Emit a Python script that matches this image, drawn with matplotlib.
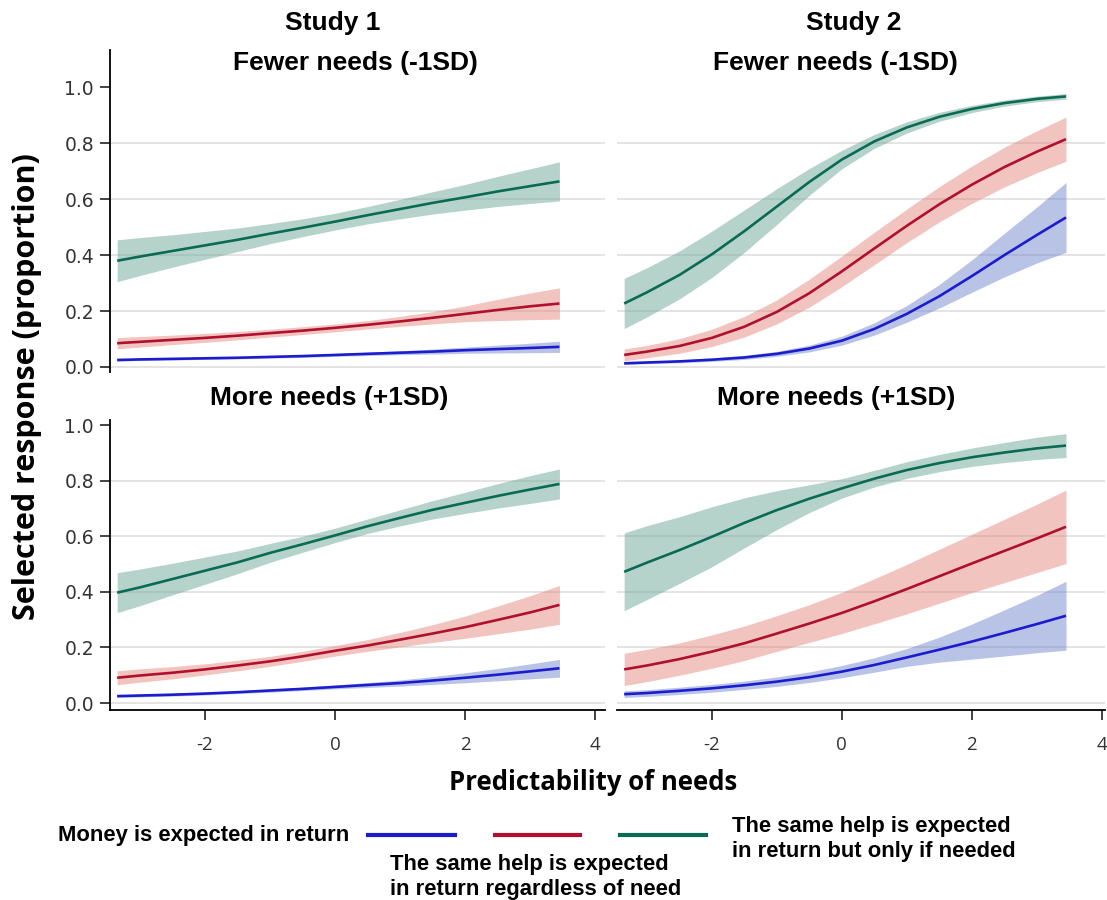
import numpy as np
import matplotlib.pyplot as plt
from matplotlib.lines import Line2D

W, H = 1107, 900

x_pred = [-3.35, -3.0, -2.5, -2.0, -1.5, -1.0, -0.5, 0.0, 0.5, 1.0, 1.5, 2.0, 2.5, 3.0, 3.45]

# Study 1, fewer needs (-1SD)
s1_few_money = [0.025, 0.027, 0.029, 0.031, 0.033, 0.036, 0.039, 0.043, 0.047, 0.051, 0.055, 0.060, 0.064, 0.068, 0.072]
s1_few_money_ci = [0.004, 0.004, 0.004, 0.004, 0.004, 0.004, 0.005, 0.005, 0.006, 0.007, 0.009, 0.011, 0.014, 0.017, 0.020]
s1_few_same = [0.085, 0.090, 0.097, 0.104, 0.112, 0.121, 0.130, 0.140, 0.151, 0.163, 0.176, 0.190, 0.204, 0.217, 0.227]
s1_few_same_ci = [0.020, 0.019, 0.017, 0.016, 0.015, 0.014, 0.014, 0.014, 0.015, 0.018, 0.022, 0.028, 0.038, 0.048, 0.056]
s1_few_ifneeded = [0.380, 0.395, 0.415, 0.435, 0.455, 0.477, 0.498, 0.520, 0.543, 0.565, 0.587, 0.607, 0.628, 0.647, 0.664]
s1_few_ifneeded_ci = [0.075, 0.068, 0.058, 0.050, 0.042, 0.036, 0.032, 0.030, 0.031, 0.035, 0.040, 0.046, 0.054, 0.062, 0.070]

# Study 1, more needs (+1SD)
s1_more_money = [0.025, 0.027, 0.030, 0.034, 0.039, 0.045, 0.051, 0.058, 0.065, 0.072, 0.081, 0.091, 0.102, 0.114, 0.125]
s1_more_money_ci = [0.005, 0.005, 0.005, 0.005, 0.005, 0.006, 0.006, 0.007, 0.009, 0.011, 0.014, 0.018, 0.022, 0.027, 0.032]
s1_more_same = [0.091, 0.099, 0.109, 0.121, 0.135, 0.150, 0.168, 0.188, 0.207, 0.228, 0.250, 0.273, 0.299, 0.326, 0.353]
s1_more_same_ci = [0.025, 0.024, 0.022, 0.020, 0.019, 0.018, 0.018, 0.019, 0.021, 0.026, 0.032, 0.040, 0.050, 0.060, 0.070]
s1_more_ifneeded = [0.397, 0.416, 0.446, 0.476, 0.506, 0.540, 0.571, 0.603, 0.636, 0.666, 0.695, 0.720, 0.745, 0.768, 0.788]
s1_more_ifneeded_ci = [0.072, 0.066, 0.057, 0.049, 0.041, 0.034, 0.029, 0.026, 0.026, 0.029, 0.033, 0.038, 0.044, 0.050, 0.054]

# Study 2, fewer needs (-1SD)
s2_few_money = [0.013, 0.016, 0.020, 0.026, 0.034, 0.047, 0.066, 0.094, 0.136, 0.190, 0.253, 0.325, 0.400, 0.472, 0.535]
s2_few_money_ci = [0.004, 0.004, 0.005, 0.006, 0.007, 0.009, 0.012, 0.016, 0.022, 0.030, 0.042, 0.058, 0.078, 0.100, 0.125]
s2_few_same = [0.043, 0.055, 0.075, 0.104, 0.144, 0.197, 0.264, 0.342, 0.424, 0.505, 0.582, 0.652, 0.715, 0.770, 0.815]
s2_few_same_ci = [0.021, 0.022, 0.026, 0.031, 0.037, 0.043, 0.050, 0.055, 0.058, 0.060, 0.063, 0.067, 0.071, 0.075, 0.079]
s2_few_ifneeded = [0.227, 0.267, 0.329, 0.403, 0.486, 0.574, 0.662, 0.742, 0.807, 0.857, 0.895, 0.923, 0.944, 0.959, 0.968]
s2_few_ifneeded_ci = [0.090, 0.088, 0.086, 0.083, 0.076, 0.064, 0.048, 0.033, 0.025, 0.020, 0.016, 0.013, 0.011, 0.010, 0.010]

# Study 2, more needs (+1SD)
s2_more_money = [0.032, 0.036, 0.044, 0.053, 0.064, 0.077, 0.093, 0.113, 0.137, 0.164, 0.192, 0.221, 0.252, 0.284, 0.314]
s2_more_money_ci = [0.012, 0.012, 0.013, 0.014, 0.015, 0.017, 0.019, 0.022, 0.026, 0.032, 0.045, 0.063, 0.083, 0.103, 0.124]
s2_more_same = [0.121, 0.135, 0.158, 0.185, 0.215, 0.250, 0.286, 0.324, 0.366, 0.410, 0.456, 0.502, 0.547, 0.592, 0.634]
s2_more_same_ci = [0.058, 0.058, 0.058, 0.060, 0.062, 0.064, 0.068, 0.074, 0.081, 0.089, 0.097, 0.105, 0.114, 0.123, 0.132]
s2_more_ifneeded = [0.472, 0.505, 0.550, 0.598, 0.648, 0.694, 0.735, 0.772, 0.807, 0.838, 0.863, 0.884, 0.901, 0.916, 0.926]
s2_more_ifneeded_ci = [0.140, 0.133, 0.120, 0.108, 0.090, 0.070, 0.050, 0.035, 0.030, 0.030, 0.031, 0.033, 0.036, 0.040, 0.043]

legend_labels = ["Money is expected in return",
                 "The same help is expected\nin return regardless of need",
                 "The same help is expected\nin return but only if needed"]
y_ticks = [0.0, 0.2, 0.4, 0.6, 0.8, 1.0]
x_ticks = [-2, 0, 2, 4]

# line colour, band colour
c_money = ("#1c1ccf", "#7388cf")
c_same = ("#b0102e", "#e58a80")
c_ifneeded = ("#0a6b55", "#6fa898")

plt.rcParams["font.family"] = "Liberation Sans"
fig = plt.figure(figsize=(W / 100, H / 100), dpi=100)


def px_axes(left, right, top, bottom):
    return fig.add_axes([left / W, 1 - bottom / H, (right - left) / W, (bottom - top) / H])


def draw_panel(ax, series, xlim, ylim, left_axis, bottom_axis):
    x = np.array(x_pred)
    for mean, ci, (lc, fc) in series:
        m, c = np.array(mean), np.array(ci)
        ax.fill_between(x, m - c, m + c, color=fc, alpha=0.5, lw=0, zorder=2)
        ax.plot(x, m, color=lc, lw=1.9, zorder=3, solid_capstyle="butt",
                solid_joinstyle="round")
    ax.set_xlim(*xlim)
    ax.set_ylim(*ylim)
    for g in y_ticks[:-1]:
        ax.axhline(g, color="#e2e2e2", lw=1.3, zorder=1)
    for s in ["top", "right"]:
        ax.spines[s].set_visible(False)
    ax.spines["left"].set_visible(left_axis)
    ax.spines["bottom"].set_visible(bottom_axis)
    ax.spines["left"].set_linewidth(1.3)
    ax.spines["bottom"].set_linewidth(1.3)
    ax.tick_params(direction="out", length=7.5, width=1.2, colors="#222222")
    if left_axis:
        ax.set_yticks(y_ticks)
        ax.set_yticklabels([f"{t:.1f}" for t in y_ticks], family="DejaVu Sans",
                           fontsize=13.5, color="#333333")
        ax.tick_params(axis="y", pad=4)
    else:
        ax.set_yticks([])
    if bottom_axis:
        ax.set_xticks(x_ticks)
        ax.set_xticklabels([str(t) for t in x_ticks], family="Open Sans",
                           fontsize=13.5, color="#333333")
        ax.tick_params(axis="x", pad=11)
    else:
        ax.set_xticks([])
    ax.set_facecolor("none")


top_ylim = (-0.018, 1.134)
bot_ylim = (-0.025, 1.018)
left_xlim = (-3.46, 4.15)
right_xlim = (-3.46, 4.05)

ax_tl = px_axes(110, 605, 50, 372)
ax_tr = px_axes(617, 1105, 50, 372)
ax_bl = px_axes(110, 605, 420, 710)
ax_br = px_axes(617, 1105, 420, 710)

draw_panel(ax_tl, [(s1_few_ifneeded, s1_few_ifneeded_ci, c_ifneeded),
                   (s1_few_same, s1_few_same_ci, c_same),
                   (s1_few_money, s1_few_money_ci, c_money)],
           left_xlim, top_ylim, True, False)
draw_panel(ax_tr, [(s2_few_ifneeded, s2_few_ifneeded_ci, c_ifneeded),
                   (s2_few_same, s2_few_same_ci, c_same),
                   (s2_few_money, s2_few_money_ci, c_money)],
           right_xlim, top_ylim, False, False)
draw_panel(ax_bl, [(s1_more_ifneeded, s1_more_ifneeded_ci, c_ifneeded),
                   (s1_more_same, s1_more_same_ci, c_same),
                   (s1_more_money, s1_more_money_ci, c_money)],
           left_xlim, bot_ylim, True, True)
draw_panel(ax_br, [(s2_more_ifneeded, s2_more_ifneeded_ci, c_ifneeded),
                   (s2_more_same, s2_more_same_ci, c_same),
                   (s2_more_money, s2_more_money_ci, c_money)],
           right_xlim, bot_ylim, False, True)


def ftext(px, py, s, **kw):
    fig.text(px / W, 1 - py / H, s, **kw)


title_kw = dict(fontsize=19, fontweight="bold", ha="center", va="center")
ftext(333, 23, "Study 1", **title_kw)
ftext(854, 23, "Study 2", **title_kw)
ftext(355, 63, "Fewer needs (-1SD)", **title_kw)
ftext(835, 63, "Fewer needs (-1SD)", **title_kw)
ftext(329, 398, "More needs (+1SD)", **title_kw)
ftext(836, 398, "More needs (+1SD)", **title_kw)

ftext(27, 387, "Selected response (proportion)", family="Open Sans", fontweight="bold",
      fontsize=22, rotation=90, ha="center", va="center")
ftext(593, 783, "Predictability of needs", family="Open Sans", fontweight="bold",
      fontsize=18.5, ha="center", va="center")

# legend
leg_kw = dict(fontsize=15.8, fontweight="bold", va="center", linespacing=1.25)
for (x0, x1), (lc, _) in zip([(368, 455), (495, 580), (620, 706)], [c_money, c_same, c_ifneeded]):
    fig.add_artist(Line2D([x0 / W, x1 / W], [1 - 835 / H] * 2, transform=fig.transFigure,
                          color=lc, lw=3))
ftext(58, 836, legend_labels[0], ha="left", **leg_kw)
ftext(390, 877, legend_labels[1], ha="left", **leg_kw)
ftext(732, 839, legend_labels[2], ha="left", **leg_kw)

fig.savefig("out.png", dpi=100)
